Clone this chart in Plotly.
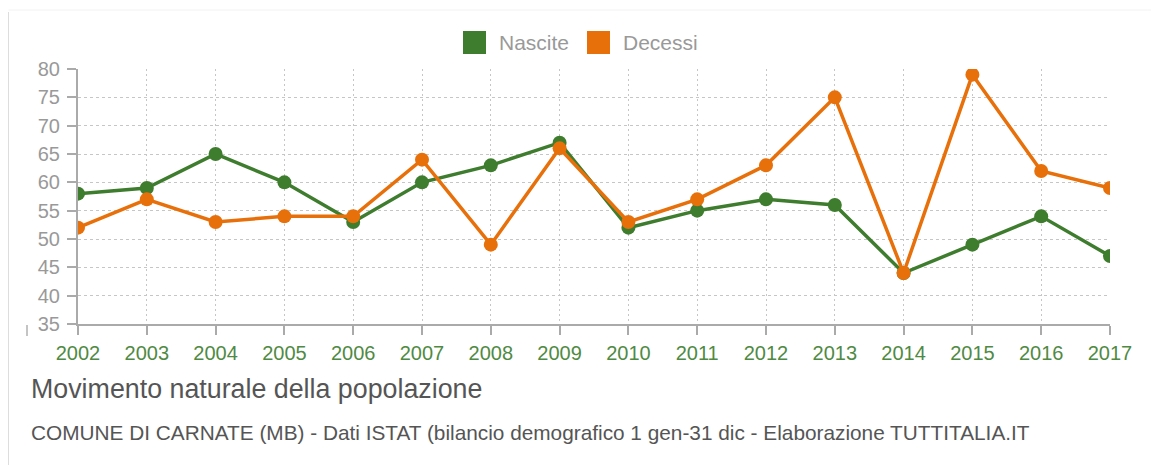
import plotly.graph_objects as go

# Movimento naturale della popolazione - Comune di Carnate
anni = [2002, 2003, 2004, 2005, 2006, 2007, 2008, 2009,
        2010, 2011, 2012, 2013, 2014, 2015, 2016, 2017]
nascite = [58, 59, 65, 60, 53, 60, 63, 67, 52, 55, 57, 56, 44, 49, 54, 47]
decessi = [52, 57, 53, 54, 54, 64, 49, 66, 53, 57, 63, 75, 44, 79, 62, 59]
y_ticks = [35, 40, 45, 50, 55, 60, 65, 70, 75, 80]
serie = ['Nascite', 'Decessi']

GREEN = '#3e7c2e'
ORANGE = '#e8700a'
GRAY = '#999999'
FONT = 'Liberation Sans, Arial'

# the page body has an 8px margin, so the figure is offset by 8px
OFF = 8
W, H = 1159 - OFF, 465 - OFF
L, T = 78 - OFF, 69 - OFF
R = W - (1110 - OFF)
B = H - (324 - OFF)
pw, ph = W - L - R, H - T - B


def px_x(x):
    return (x - OFF - L) / pw


def px_y(y):
    return (H - B - (y - OFF)) / ph


fig = go.Figure()

fig.add_trace(go.Scatter(
    x=anni, y=nascite, name=serie[0], mode='lines+markers', showlegend=False,
    line=dict(color=GREEN, width=3.5),
    marker=dict(color=GREEN, size=14)
))
fig.add_trace(go.Scatter(
    x=anni, y=decessi, name=serie[1], mode='lines+markers', showlegend=False,
    line=dict(color=ORANGE, width=3.5),
    marker=dict(color=ORANGE, size=14)
))

fig.update_xaxes(
    range=[2002, 2017], tickvals=anni, ticktext=[str(a) for a in anni],
    tickfont=dict(family=FONT, size=20, color='#4f8a43'),
    showgrid=True, gridcolor='#c6c6c6', griddash='2px,3px', gridwidth=1,
    showline=True, linecolor='#aaaaaa', linewidth=2,
    ticks='outside', ticklen=9, tickcolor='#aaaaaa', tickwidth=1.5,
    ticklabelstandoff=1, zeroline=False, fixedrange=True
)
fig.update_yaxes(
    range=[35, 80], tickvals=y_ticks,
    tickfont=dict(family=FONT, size=20, color=GRAY),
    showgrid=True, gridcolor='#c6c6c6', griddash='3px,3px', gridwidth=1,
    showline=True, linecolor='#aaaaaa', linewidth=2,
    ticks='outside', ticklen=9, tickcolor='#aaaaaa', tickwidth=1.5,
    ticklabelstandoff=3, zeroline=False, fixedrange=True
)

# legend drawn as square swatches with text
legend_items = [(serie[0], GREEN, 463, 497), (serie[1], ORANGE, 587, 621)]
for nome, colore, sx, tx in legend_items:
    fig.add_shape(type='rect', xref='paper', yref='paper',
                  x0=px_x(sx), x1=px_x(sx + 23), y0=px_y(31), y1=px_y(54),
                  fillcolor=colore, line=dict(width=0))
    fig.add_annotation(text=nome, xref='paper', yref='paper',
                       x=px_x(tx), y=px_y(43), xanchor='left', yanchor='middle',
                       showarrow=False,
                       font=dict(family=FONT, size=21, color=GRAY))

fig.add_annotation(
    text='Movimento naturale della popolazione',
    xref='paper', yref='paper', x=px_x(29), y=px_y(389),
    xanchor='left', yanchor='middle', showarrow=False,
    font=dict(family=FONT, size=26.8, color='#555555')
)
fig.add_annotation(
    text='COMUNE DI CARNATE (MB) - Dati ISTAT (bilancio demografico 1 gen-31 dic - Elaborazione TUTTITALIA.IT',
    xref='paper', yref='paper', x=px_x(29), y=px_y(432),
    xanchor='left', yanchor='middle', showarrow=False,
    font=dict(family=FONT, size=20.8, color='#555555')
)

# frame of the widget and the small stray tick
fig.add_shape(type='line', xref='paper', yref='paper',
              x0=px_x(8.5), x1=px_x(8.5), y0=px_y(12), y1=px_y(470),
              line=dict(color='#dddddd', width=1))
fig.add_shape(type='line', xref='paper', yref='paper',
              x0=px_x(8.5), x1=px_x(1159), y0=px_y(10), y1=px_y(10),
              line=dict(color='#f2f2f2', width=1))
fig.add_shape(type='line', xref='paper', yref='paper',
              x0=px_x(27), x1=px_x(27), y0=px_y(325), y1=px_y(336),
              line=dict(color='#b0b0b0', width=1.5))

fig.update_layout(
    width=W, height=H,
    margin=dict(l=L, r=R, t=T, b=B, pad=0),
    paper_bgcolor='white', plot_bgcolor='white',
    showlegend=False,
    hovermode='closest'
)

fig.write_html('out.html')
